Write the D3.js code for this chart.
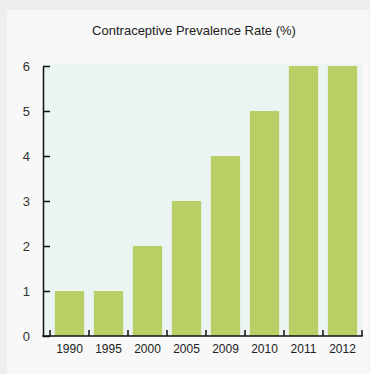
<!DOCTYPE html>
<html>
<head>
<meta charset="utf-8">
<script src="https://cdn.jsdelivr.net/npm/d3@7"></script>
<style>
  html, body { margin: 0; padding: 0; background: #edeeed; }
  svg { display: block; }
</style>
</head>
<body>
<script>
"use strict";

// chart data
const years = ["1990", "1995", "2000", "2005", "2009", "2010", "2011", "2012"];
const rates = [1, 1, 2, 3, 4, 5, 6, 6];
const yTicks = [0, 1, 2, 3, 4, 5, 6];
const title = "Contraceptive Prevalence Rate (%)";

const width = 370, height = 374;
const font = "'Liberation Sans', Arial, sans-serif";

const svg = d3.select("body").append("svg")
  .attr("width", width)
  .attr("height", height);

// card
svg.append("rect")
  .attr("x", 7).attr("y", 10)
  .attr("width", 362).attr("height", height - 10)
  .attr("fill", "#f7f8f7");

svg.append("text")
  .attr("x", 194).attr("y", 35)
  .attr("text-anchor", "middle")
  .attr("font-family", font)
  .attr("font-size", 13)
  .attr("fill", "#222")
  .text(title);

const x = d3.scaleBand()
  .domain(years)
  .range([50, 362])
  .paddingInner(0.25)
  .paddingOuter(0.125);

const y = d3.scaleLinear()
  .domain([0, 6])
  .range([336, 66]);

// plot background
svg.append("rect")
  .attr("x", 43).attr("y", 64)
  .attr("width", 362 - 43).attr("height", 336 - 64)
  .attr("fill", "#ebf4f3");

// bars
svg.append("g")
  .selectAll("rect")
  .data(years)
  .join("rect")
  .attr("x", d => x(d))
  .attr("y", (d, i) => y(rates[i]))
  .attr("width", x.bandwidth())
  .attr("height", (d, i) => y(0) - y(rates[i]))
  .attr("fill", "#b7cf64");

// y axis
const yAxis = svg.append("g")
  .attr("transform", "translate(43,0)")
  .call(d3.axisLeft(y).tickValues(yTicks).tickFormat(d3.format("d"))
    .tickSize(-7).tickPadding(13).tickSizeOuter(0));
yAxis.select(".domain").attr("stroke", "#111").attr("stroke-width", 1.5);
yAxis.selectAll(".tick line").attr("stroke", "#111").attr("stroke-width", 1.5);
yAxis.selectAll("text")
  .attr("font-family", font)
  .attr("font-size", 13)
  .attr("fill", "#333");

// x axis line
svg.append("line")
  .attr("x1", 42.25).attr("x2", 362.75)
  .attr("y1", y(0)).attr("y2", y(0))
  .attr("stroke", "#111").attr("stroke-width", 1.5);

// x ticks at band edges
const edges = years.map(d => x(d) - x.step() * x.paddingInner() / 2).concat([362]);
svg.append("g")
  .selectAll("line")
  .data(edges)
  .join("line")
  .attr("x1", d => d).attr("x2", d => d)
  .attr("y1", y(0)).attr("y2", y(0) - 6)
  .attr("stroke", "#111").attr("stroke-width", 1.5);

// x labels
svg.append("g")
  .selectAll("text")
  .data(years)
  .join("text")
  .attr("x", d => x(d) + x.bandwidth() / 2)
  .attr("y", 353)
  .attr("text-anchor", "middle")
  .attr("font-family", font)
  .attr("font-size", 12)
  .attr("fill", "#222")
  .text(d => d);
</script>
</body>
</html>
